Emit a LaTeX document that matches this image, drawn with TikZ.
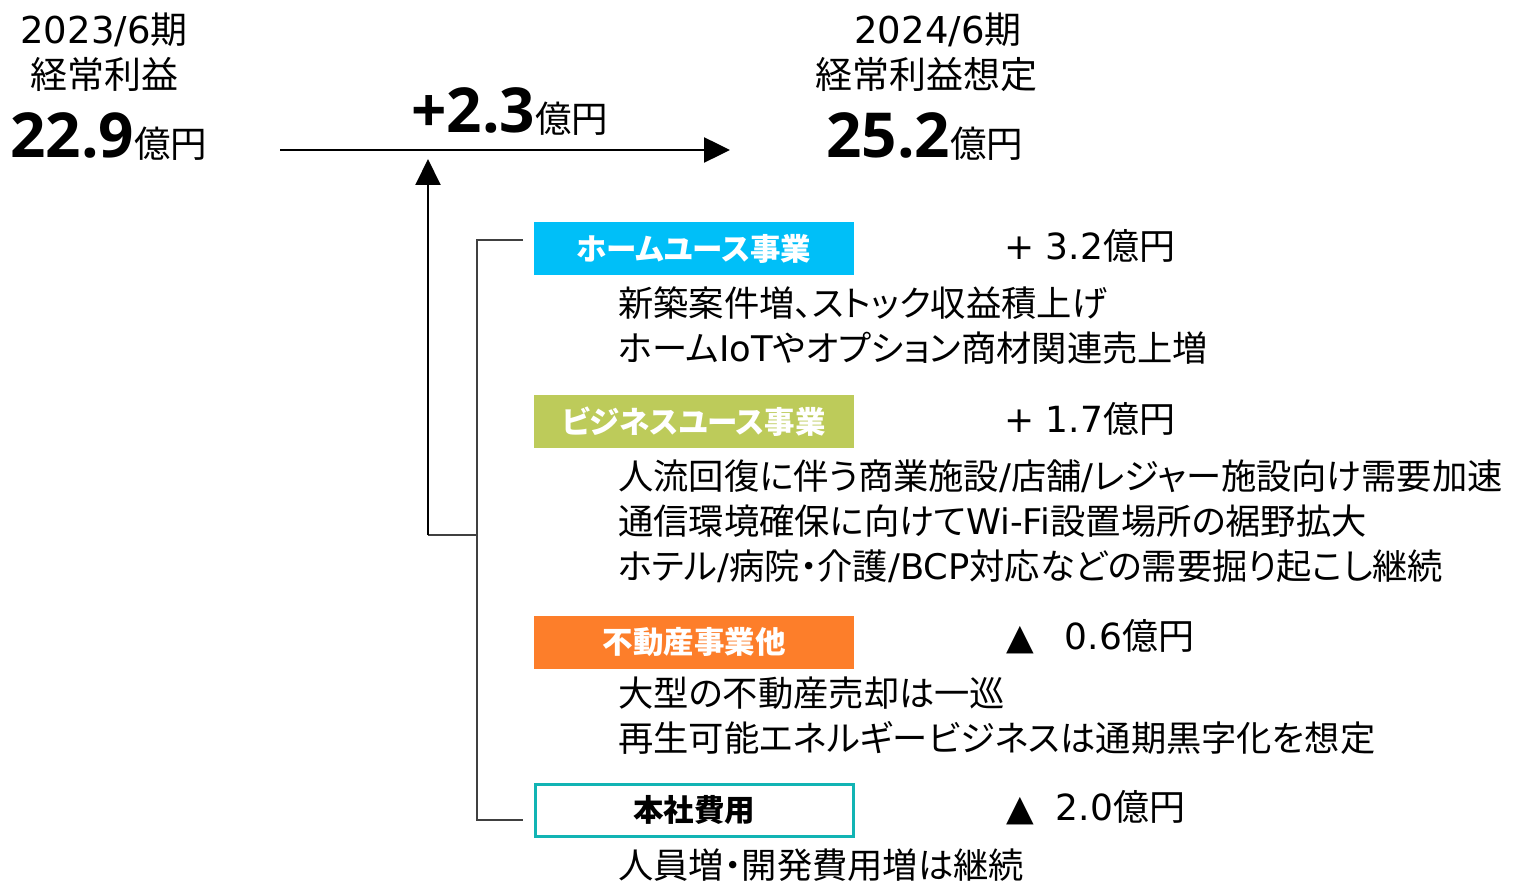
\documentclass[tikz,border=0pt]{standalone}
\usepackage{fontspec}
\setmainfont{Noto Sans CJK JP}[RawFeature={+palt}]
\newfontfamily\latv{DejaVu Sans}
\newfontfamily\lato{Open Sans}
\usetikzlibrary{arrows.meta}
\definecolor{homec}{HTML}{00BFF8}
\definecolor{bizc}{HTML}{BDCB5A}
\definecolor{realc}{HTML}{FD7E2A}
\definecolor{hqc}{HTML}{12B4B4}
\definecolor{brk}{HTML}{404040}
\tikzset{
  hdr/.style={inner sep=0pt, font=\fontsize{37}{40}\selectfont},
  big/.style={inner sep=0pt, font=\fontsize{62}{66}\selectfont\bfseries},
  body/.style={inner sep=0pt, anchor=west, font=\fontsize{35.3}{40}\selectfont},
  val/.style={inner sep=0pt, anchor=west, font=\fontsize{36}{40}\selectfont},
  lbl/.style={minimum width=320, minimum height=53, inner sep=0pt, text=white, font=\fontsize{30.5}{34}\selectfont\bfseries},
  mainarrow/.style={line width=2.5, -{Triangle[length=26,width=25]}},
  bracket/.style={line width=1.5, brk}
}
\newcommand{\oku}{{\fontsize{36.5}{40}\selectfont\mdseries 億円}}
\newcommand{\lt}[1]{{\latv #1}}
\newcommand{\lo}[1]{{\lato #1}}
\begin{document}
\begin{tikzpicture}[x=1pt,y=-1pt]
\useasboundingbox (0,0) rectangle (1526,882);
% header
\node[hdr] (h1a) at (104,30) {\lt{2023/6}期};
\node[hdr] (h1b) at (104,74) {経常利益};
\node[big, anchor=west] (h1c) at (10,137) {\lo{22.9}\oku};
\node[hdr] (h2a) at (938,30) {\lt{2024/6}期};
\node[hdr] (h2b) at (926,74) {経常利益想定};
\node[big, anchor=west] (h2c) at (826,137) {\lo{25.2}\oku};
\node[big, anchor=west] (d) at (411,112) {\lo{+2.3}\oku};
% main arrow
\coordinate (ms) at (280,150);
\coordinate (me) at (730,150);
\draw[mainarrow] (ms) -- (me);
% boxes
\node[lbl, fill=homec] (home) at (694,248.5) {ホームユース事業};
\node[lbl, fill=bizc] (biz) at (694,421.5) {ビジネスユース事業};
\node[lbl, fill=realc] (real) at (694,642.5) {不動産事業他};
\node[lbl, draw=hqc, line width=3, fill=white, text=black, minimum width=318, minimum height=52] (hq) at (694,810) {本社費用};
% bracket
\coordinate (bt) at (523,240);
\coordinate (btc) at (477,240);
\coordinate (bbc) at (477,820);
\coordinate (bb) at (523,820);
\coordinate (bj) at (477,535);
\coordinate (aj) at (428,535);
\coordinate (at) at (428,159);
\draw[bracket] (bt) -- (btc) -- (bbc) -- (bb);
\draw[bracket] (bj) -- (aj);
\draw[mainarrow, line width=2] (aj) -- (at);
% values
\node[val] (v1) at (1004,246) {\lt{+ 3.2}億円};
\node[val] (v2) at (1004,419) {\lt{+ 1.7}億円};
\node[val] (v3) at (1006,637) {\lt{▲}\hspace{31pt}\lt{0.6}億円};
\node[val] (v4) at (1006,808) {\lt{▲}\hspace{22pt}\lt{2.0}億円};
% body text
\node[body] (t1) at (618,303) {新築案件増、ストック収益積上げ};
\node[body] (t2) at (618,348) {ホーム\lt{IoT}やオプション商材関連売上増};
\node[body] (t3) at (618,476) {人流回復に伴う商業施設\lt{/}店舗\lt{/}レジャー施設向け需要加速};
\node[body] (t4) at (618,521) {通信環境確保に向けて\lt{Wi-Fi}設置場所の裾野拡大};
\node[body] (t5) at (618,566) {ホテル\lt{/}病院・介護\lt{/BCP}対応などの需要掘り起こし継続};
\node[body] (t6) at (618,693) {大型の不動産売却は一巡};
\node[body] (t7) at (618,738) {再生可能エネルギービジネスは通期黒字化を想定};
\node[body] (t8) at (618,865) {人員増・開発費用増は継続};
\end{tikzpicture}
\end{document}
